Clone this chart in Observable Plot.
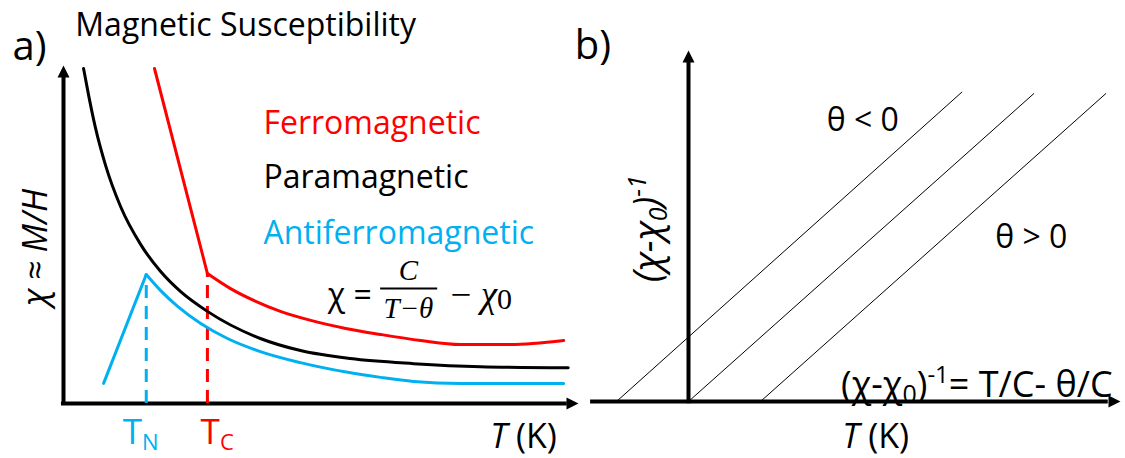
<!DOCTYPE html>
<html><head><meta charset="utf-8">
<script src="https://cdn.jsdelivr.net/npm/d3@7"></script>
<script src="https://cdn.jsdelivr.net/npm/@observablehq/plot@0.6"></script>
<style>
body{margin:0;background:#fff;}
#wrap{position:relative;width:1125px;height:458px;overflow:hidden;}
#wrap svg{position:absolute;top:0;}
</style></head><body><div id="wrap"></div>
<script>
// ---------- panel (a): χ vs T (arbitrary units) ----------
const paraT    = [3.9, 4.9, 6.2, 8.2, 11.1, 15.0, 18.9, 22.8, 28.0, 38.3, 46.1, 55.8, 68.1, 81.1, 98.2];
const paraChi  = [100, 91.9, 82.4, 71.0, 58.8, 47.5, 39.4, 33.4, 27.5, 19.4, 15.8, 13.4, 11.9, 11.0, 10.7];
const ferroT   = [17.7, 28.0, 32.5, 37.4, 42.2, 48.1, 54.9, 61.7, 69.5, 77.2, 87.0, 97.3];
const ferroChi = [100, 38.8, 34.3, 30.5, 27.5, 24.8, 22.4, 20.6, 18.8, 17.6, 17.6, 18.8];
const antiT    = [7.8, 16.1, 18.9, 22.2, 26.7, 31.9, 38.3, 46.1, 55.3, 61.7, 68.1, 77.2, 97.3];
const antiChi  = [6.0, 38.5, 33.7, 29.0, 23.9, 19.4, 15.5, 12.2, 9.3, 7.8, 6.6, 6.0, 6.0];
const transitionNames = ["T_N", "T_C"];
const transitionT     = [16.1, 28.0];
const transitionChi   = [38.5, 38.8];
const labelT          = [15.0, 29.9];   // where the T_N / T_C labels sit
const phaseNames  = ["Ferromagnetic", "Paramagnetic", "Antiferromagnetic"];
const phaseLabelY = [83.4, 67.3, 50.6];

// ---------- panel (b): (χ-χ0)^-1 vs T ----------
const thetaT   = [-1, 0, 1];        // x-intercepts (θ<0, θ=0, θ>0)
const lineEndT = [3.8, 4.8, 5.8];
const lineEndY = [4.3, 4.28, 4.28];

const RED = "#ff0000", BLUE = "#00b0f0", FONT = "'Open Sans', sans-serif", SERIF = "'Liberation Serif', serif";
const rows = (T, C) => T.map((t, i) => ({T: t, chi: C[i]}));
const arrowRight = {draw(ctx, size) { const r = Math.sqrt(size / Math.PI); ctx.moveTo(0, 0); ctx.lineTo(-2 * r, -r); ctx.lineTo(-2 * r, r); ctx.closePath(); }};
const arrowUp    = {draw(ctx, size) { const r = Math.sqrt(size / Math.PI); ctx.moveTo(0, 0); ctx.lineTo(-r, 2 * r); ctx.lineTo(r, 2 * r); ctx.closePath(); }};

const rich = {
  "T_N": 'T<tspan font-size="22" dy="6">N</tspan>',
  "T_C": 'T<tspan font-size="22" dy="6">C</tspan>',
  "T (K)": '<tspan font-style="italic">T</tspan> (K)',
  "− χ_0": '− <tspan font-style="italic">χ</tspan><tspan font-size="30" dy="2">0</tspan>',
  "(χ-χ_0)^-1": '(χ-χ<tspan font-size="25" dy="6">0</tspan><tspan dy="-6">)</tspan><tspan font-size="25" dy="-15">-1</tspan>',
  "(χ-χ_0)^-1= T/C- θ/C": '(χ-χ<tspan font-size="25" dy="6">0</tspan><tspan dy="-6">)</tspan><tspan font-size="24" dy="-14">-1</tspan><tspan dy="14">= T/C- θ/C</tspan>'
};
function applyRich(svg) {
  svg.querySelectorAll("text").forEach(t => { const k = t.textContent; if (rich[k]) t.innerHTML = rich[k]; });
  return svg;
}

const left = Plot.plot({
  width: 580, height: 458,
  marginLeft: 63, marginRight: 3, marginTop: 68, marginBottom: 55,
  x: {domain: [0, 100], axis: null},
  y: {domain: [0, 100], axis: null},
  style: {fontFamily: FONT, background: "transparent", overflow: "visible"},
  marks: [
    Plot.ruleY([0], {x1: -0.4, x2: 98, strokeWidth: 4}),
    Plot.ruleX([0], {y1: -0.6, y2: 97.3, strokeWidth: 4}),
    Plot.dot([0], {x: 100.2, y: 0, symbol: arrowRight, r: 6, fill: "black", stroke: null}),
    Plot.dot([0], {x: 0, y: 100.9, symbol: arrowUp, r: 6, fill: "black", stroke: null}),
    Plot.ruleX(rows(transitionT, transitionChi), {x: "T", y1: 0, y2: "chi", stroke: (d, i) => i ? RED : BLUE, strokeWidth: 3, strokeDasharray: "13,8"}),
    Plot.line(rows(paraT, paraChi), {x: "T", y: "chi", curve: "monotone-x", stroke: "black", strokeWidth: 3}),
    Plot.line(rows(ferroT.slice(0, 2), ferroChi.slice(0, 2)), {x: "T", y: "chi", stroke: RED, strokeWidth: 3}),
    Plot.line(rows(ferroT.slice(1), ferroChi.slice(1)), {x: "T", y: "chi", curve: "monotone-x", stroke: RED, strokeWidth: 3}),
    Plot.line(rows(antiT.slice(0, 2), antiChi.slice(0, 2)), {x: "T", y: "chi", stroke: BLUE, strokeWidth: 3}),
    Plot.line(rows(antiT.slice(1), antiChi.slice(1)), {x: "T", y: "chi", curve: "monotone-x", stroke: BLUE, strokeWidth: 3}),
    Plot.text(["a)"], {x: -9.9, y: 106.5, text: d => d, textAnchor: "start", fontSize: 40}),
    Plot.text(["Magnetic Susceptibility"], {x: 2.3, y: 112.8, text: d => d, textAnchor: "start", fontSize: 32}),
    Plot.text(phaseNames, {x: 38.9, y: (d, i) => phaseLabelY[i], text: d => d, textAnchor: "start", fontSize: 32, fill: (d, i) => [RED, "black", BLUE][i]}),
    Plot.text(["χ ≈ M/H"], {x: -5.4, y: 46.6, text: d => d, rotate: -90, fontStyle: "italic", fontSize: 34}),
    Plot.text(transitionNames, {x: (d, i) => labelT[i], y: -8.6, text: d => d, fontSize: 35, fill: (d, i) => i ? RED : BLUE}),
    Plot.text(["T (K)"], {x: 89.5, y: -9.9, text: d => d, fontSize: 34}),
    // Curie–Weiss formula
    Plot.text(["χ ="], {x: 51.4, y: 32.2, text: d => d, textAnchor: "start", fontSize: 32}),
    Plot.text(["C"], {x: 67.1, y: 39.7, text: d => d, fontFamily: SERIF, fontStyle: "italic", fontSize: 29}),
    Plot.ruleY([34.3], {x1: 61.7, x2: 72.8, strokeWidth: 2}),
    Plot.text(["T−θ"], {x: 67.1, y: 28.4, text: d => d, fontFamily: SERIF, fontStyle: "italic", fontSize: 29}),
    Plot.text(["− χ_0"], {x: 75.3, y: 32.2, text: d => d, textAnchor: "start", fontFamily: SERIF, fontSize: 37})
  ]
});

const right = Plot.plot({
  width: 560, height: 458,
  marginLeft: 15, marginRight: 5, marginTop: 41, marginBottom: 57,
  x: {domain: [-1.5, 6], axis: null},
  y: {domain: [0, 5], axis: null},
  style: {fontFamily: FONT, background: "transparent", overflow: "visible"},
  marks: [
    Plot.link(thetaT.map((t, i) => ({t0: t, t1: lineEndT[i], y1: lineEndY[i]})), {x1: "t0", y1: () => 0, x2: "t1", y2: "y1", stroke: "black", strokeWidth: 1}),
    Plot.ruleY([0], {x1: -1.36, x2: 5.83, strokeWidth: 4}),
    Plot.ruleX([0], {y1: -0.03, y2: 4.71, strokeWidth: 4}),
    Plot.dot([0], {x: 6.0, y: 0, symbol: arrowRight, r: 6, fill: "black", stroke: null}),
    Plot.dot([0], {x: 0, y: 4.875, symbol: arrowUp, r: 6, fill: "black", stroke: null}),
    Plot.text(["b)"], {x: -1.58, y: 4.94, text: d => d, textAnchor: "start", fontSize: 40}),
    Plot.text(["θ < 0"], {x: 2.42, y: 3.9, text: d => d, fontSize: 32}),
    Plot.text(["θ > 0"], {x: 4.76, y: 2.27, text: d => d, fontSize: 32}),
    Plot.text(["(χ-χ_0)^-1"], {x: -0.55, y: 2.4, text: d => d, rotate: -90, fontStyle: "italic", fontSize: 38}),
    Plot.text(["(χ-χ_0)^-1= T/C- θ/C"], {x: 5.89, y: 0.22, text: d => d, textAnchor: "end", fontSize: 36}),
    Plot.text(["T (K)"], {x: 2.6, y: -0.5, text: d => d, fontSize: 34})
  ]
});

const wrap = document.getElementById("wrap");
applyRich(left); applyRich(right);
left.style.left = "0px";
right.style.left = "565px";
wrap.appendChild(left);
wrap.appendChild(right);
</script>
</body></html>
